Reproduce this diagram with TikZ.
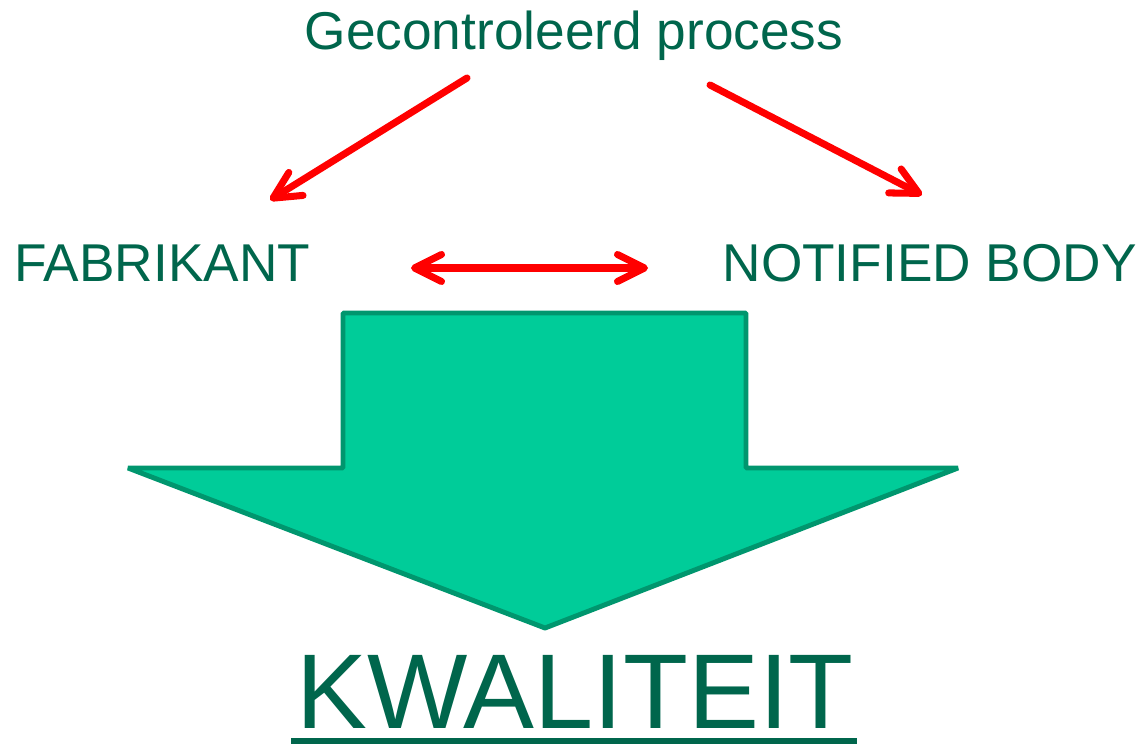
\documentclass[tikz,border=0pt]{standalone}
\usepackage{fontspec}
\setmainfont{Liberation Sans}
\usetikzlibrary{arrows.meta}
\definecolor{tekstgroen}{RGB}{0,102,76}
\definecolor{pijlvul}{RGB}{0,204,153}
\definecolor{pijlrand}{RGB}{0,150,110}
\tikzset{
    txt/.style = {text=tekstgroen, inner sep=0pt, font=\fontsize{30.3}{36}\selectfont},
    groot/.style = {txt, font=\fontsize{60.5}{72}\selectfont},
    rood/.style = {draw=red, line width=4pt, line cap=round,
        -{Straight Barb[length=5.4mm,width=5.4mm,round]}},
    blokpijl/.style = {draw=pijlrand, fill=pijlvul, line width=2.8pt, line join=bevel},
    onderlijn/.style = {draw=tekstgroen, line width=0.12cm}
}

\begin{document}
\begin{tikzpicture}[x=0.02cm,y=-0.02cm]
    \useasboundingbox (0,0) rectangle (1139,746);
    % teksten
    \node [txt, anchor=base] (proces) at (574,50) {Gecontroleerd process};
    \node [txt, anchor=base west] (fabrikant) at (14,282) {FABRIKANT};
    \node [txt, anchor=base east] (nb) at (1137,282) {NOTIFIED BODY};
    \node [groot, anchor=base] (kwaliteit) at (575,728) {KWALITEIT};
    \draw [onderlijn] ([xshift=-0.1cm,yshift=-0.26cm]kwaliteit.base west) -- ([xshift=0.06cm,yshift=-0.26cm]kwaliteit.base east);
    % uiteinden van de pijlen
    \coordinate (p1) at (467,78);
    \coordinate (p2) at (270,200);
    \coordinate (q1) at (710,85);
    \coordinate (q2) at (922,195);
    \coordinate (f) at (411,268);
    \coordinate (n) at (648,268);
    \draw [rood] (p1) -- (p2);
    \draw [rood] (q1) -- (q2);
    \draw [rood, {Straight Barb[length=5.4mm,width=5.4mm,round]}-{Straight Barb[length=5.4mm,width=5.4mm,round]}] (f) -- (n);
    % grote pijl naar beneden
    \draw [blokpijl] (343,313) -- (746,313) -- (746,468) -- (958,468) -- (545,628) -- (128,468) -- (343,468) -- cycle;
\end{tikzpicture}
\end{document}
